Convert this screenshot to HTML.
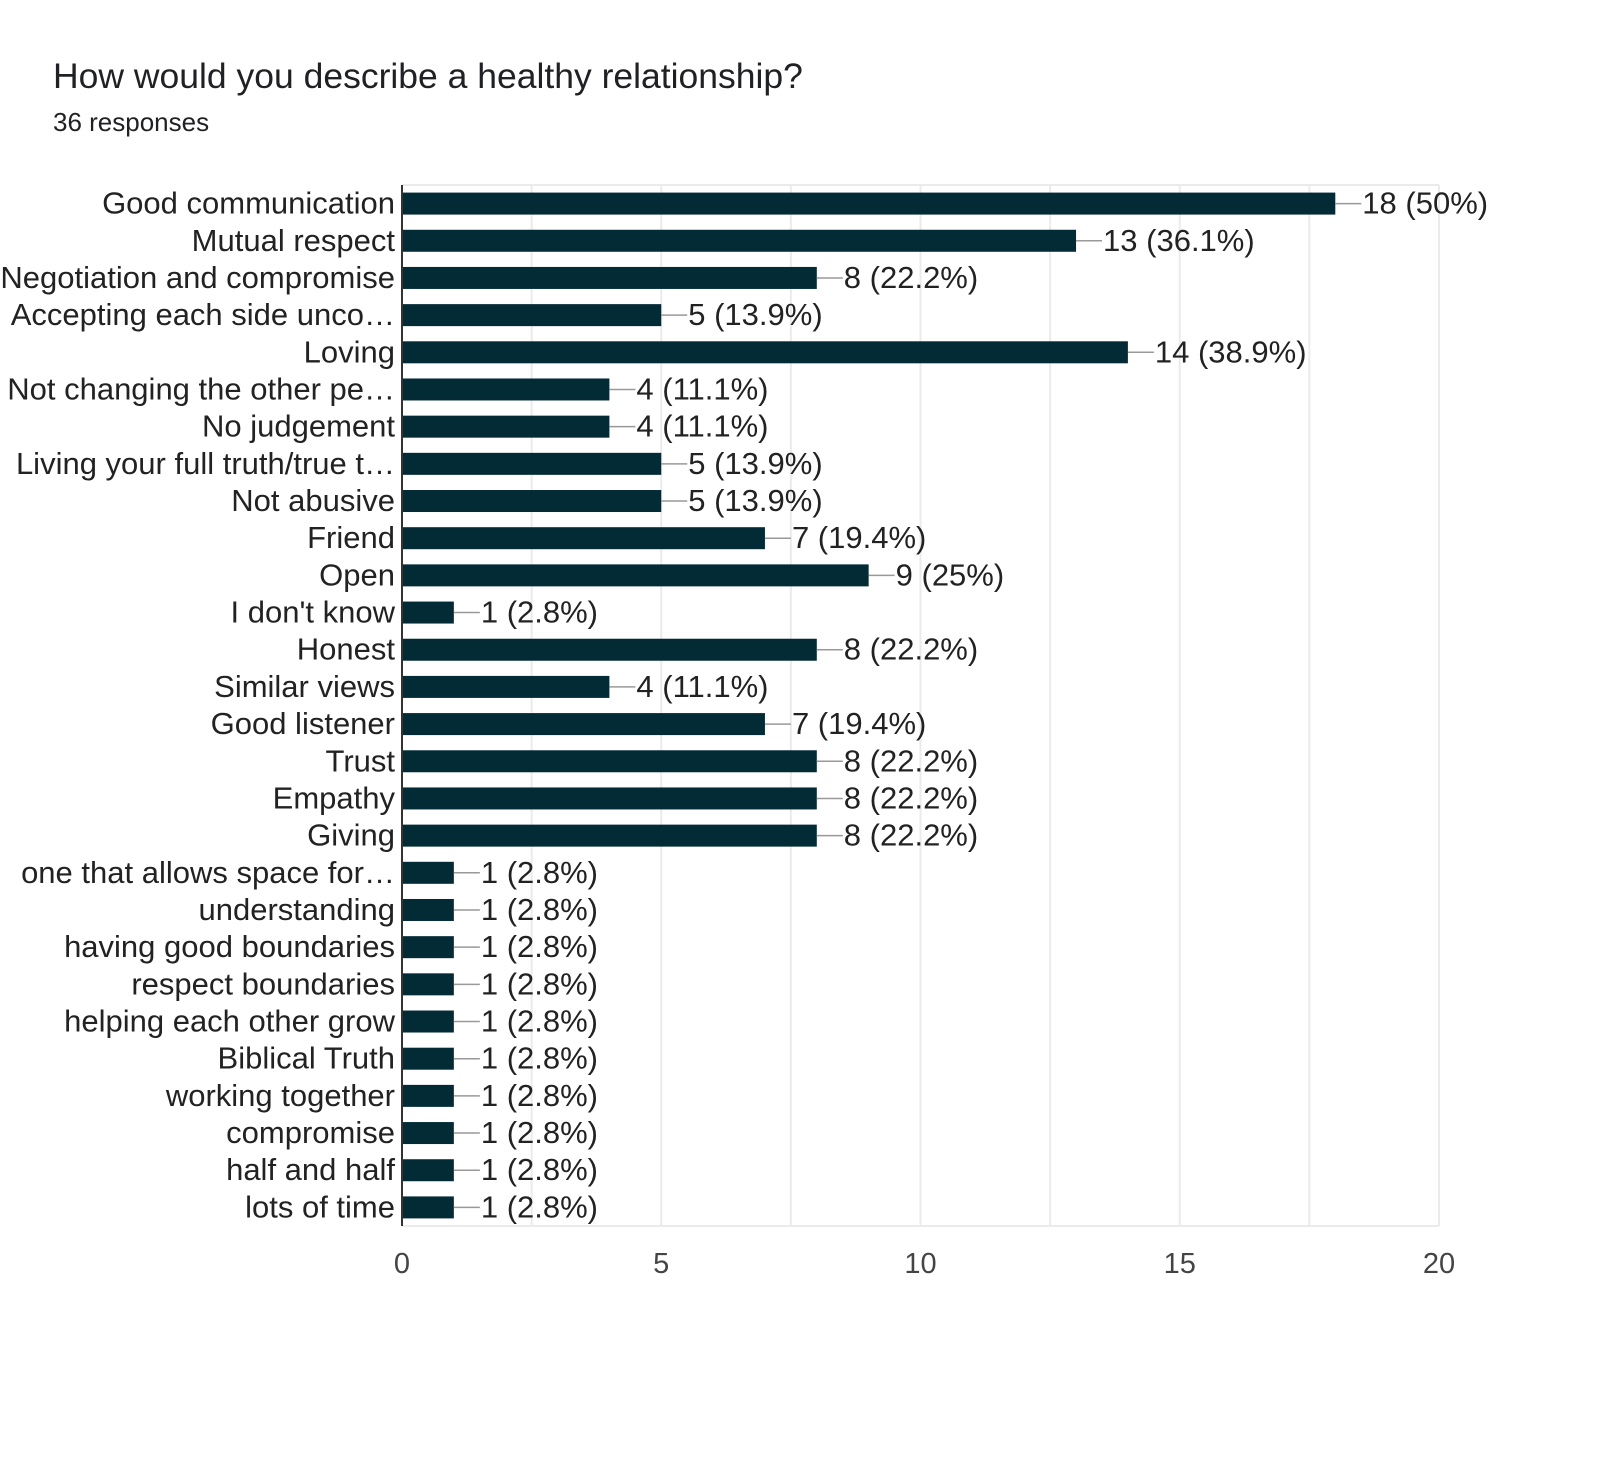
<!DOCTYPE html>
<html><head><meta charset="utf-8"><style>
body{margin:0;background:#fff;}
svg{display:block;font-family:"Liberation Sans",Arial,sans-serif;}
</style></head><body>
<svg id="chart" width="1600" height="1462" viewBox="0 0 1600 1462">
<rect width="1600" height="1462" fill="#fff"/>
<text x="53" y="88" font-size="35.5" fill="#202124">How would you describe a healthy relationship?</text>
<text x="53" y="131" font-size="26" fill="#202124">36 responses</text>
<g id="grid"></g><g id="bars"></g><g id="labels"></g><g id="ticks"></g>
</svg>
<script>
const categories=["Good communication","Mutual respect","Negotiation and compromise","Accepting each side unco…","Loving","Not changing the other pe…","No judgement","Living your full truth/true t…","Not abusive","Friend","Open","I don't know","Honest","Similar views","Good listener","Trust","Empathy","Giving","one that allows space for…","understanding","having good boundaries","respect boundaries","helping each other grow","Biblical Truth","working together","compromise","half and half","lots of time"];
const values=[18,13,8,5,14,4,4,5,5,7,9,1,8,4,7,8,8,8,1,1,1,1,1,1,1,1,1,1];
const percents=["50%","36.1%","22.2%","13.9%","38.9%","11.1%","11.1%","13.9%","13.9%","19.4%","25%","2.8%","22.2%","11.1%","19.4%","22.2%","22.2%","22.2%","2.8%","2.8%","2.8%","2.8%","2.8%","2.8%","2.8%","2.8%","2.8%","2.8%"];
const tickValues=[0,5,10,15,20];
const gridValues=[2.5,5,7.5,10,12.5,15,17.5,20];
const NS="http://www.w3.org/2000/svg";
const X0=402,X1=1439,MAXV=20,PTOP=185,PBOT=1226;
const BAND=(PBOT-PTOP)/categories.length;
function xs(v){return X0+(X1-X0)*v/MAXV;}
function yc(i){return PTOP+BAND*(i+0.5);}
function mk(tag,attrs,parent,txt){const e=document.createElementNS(NS,tag);for(const k in attrs)e.setAttribute(k,attrs[k]);if(txt!=null)e.textContent=txt;document.getElementById(parent).appendChild(e);return e;}
const topLine=mk('line',{x1:X0,x2:X1,y1:PTOP,y2:PTOP,stroke:'#ebebeb','stroke-width':2},'grid');


const botLine=mk('line',{x1:X0,x2:X1,y1:PBOT,y2:PBOT,stroke:'#ebebeb','stroke-width':2},'grid');


gridValues.forEach(v=>{
  const g=mk('line',{x1:xs(v),x2:xs(v),y1:PTOP,y2:PBOT,stroke:'#ebebeb','stroke-width':2},'grid');
  
  
});
categories.forEach((c,i)=>{
  const y=yc(i),w=xs(values[i])-X0;
  const b=mk('rect',{x:X0,y:y-11,width:w,height:22,fill:'#022b36'},'bars');
  
  
  const l=mk('line',{x1:xs(values[i]),x2:xs(values[i])+26,y1:y,y2:y,stroke:'#999','stroke-width':1.5},'bars');
  
  
  const v=mk('text',{x:xs(values[i])+27,y:y+10,'font-size':31,fill:'#222'},'labels',values[i]+' ('+percents[i]+')');
  
  
  const t=mk('text',{x:395,y:y+10,'font-size':31,fill:'#222','text-anchor':'end'},'labels',c);
  
  
});
const ax=mk('line',{x1:X0,x2:X0,y1:PTOP,y2:PBOT,stroke:'#333','stroke-width':2},'ticks');


tickValues.forEach(v=>{
  const t=mk('text',{x:xs(v),y:1273,'font-size':29,fill:'#444','text-anchor':'middle'},'ticks',String(v));
  
  
});
</script>
</body></html>
